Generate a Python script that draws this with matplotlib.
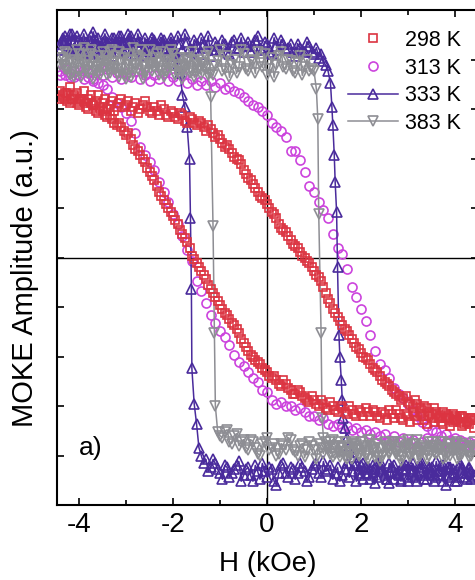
import numpy as np
import matplotlib.pyplot as plt
from matplotlib.ticker import MultipleLocator

plt.rcParams['font.family'] = ['Liberation Sans', 'DejaVu Sans']
plt.rcParams['axes.unicode_minus'] = False

# field values (kOe): main sweep points and the points half-way between them
H = [-4.4, -4.3, -4.2, -4.1, -4.0, -3.9, -3.8, -3.7, -3.6, -3.5,
     -3.4, -3.3, -3.2, -3.1, -3.0, -2.9, -2.8, -2.7, -2.6, -2.5,
     -2.4, -2.3, -2.2, -2.1, -2.0, -1.9, -1.8, -1.7, -1.6, -1.5,
     -1.4, -1.3, -1.2, -1.1, -1.0, -0.9, -0.8, -0.7, -0.6, -0.5,
     -0.4, -0.3, -0.2, -0.1, 0.0, 0.1, 0.2, 0.3, 0.4, 0.5,
     0.6, 0.7, 0.8, 0.9, 1.0, 1.1, 1.2, 1.3, 1.4, 1.5,
     1.6, 1.7, 1.8, 1.9, 2.0, 2.1, 2.2, 2.3, 2.4, 2.5,
     2.6, 2.7, 2.8, 2.9, 3.0, 3.1, 3.2, 3.3, 3.4, 3.5,
     3.6, 3.7, 3.8, 3.9, 4.0, 4.1, 4.2, 4.3, 4.4]
H2 = [-4.35, -4.25, -4.15, -4.05, -3.95, -3.85, -3.75, -3.65, -3.55, -3.45,
      -3.35, -3.25, -3.15, -3.05, -2.95, -2.85, -2.75, -2.65, -2.55, -2.45,
      -2.35, -2.25, -2.15, -2.05, -1.95, -1.85, -1.75, -1.65, -1.55, -1.45,
      -1.35, -1.25, -1.15, -1.05, -0.95, -0.85, -0.75, -0.65, -0.55, -0.45,
      -0.35, -0.25, -0.15, -0.05, 0.05, 0.15, 0.25, 0.35, 0.45, 0.55,
      0.65, 0.75, 0.85, 0.95, 1.05, 1.15, 1.25, 1.35, 1.45, 1.55,
      1.65, 1.75, 1.85, 1.95, 2.05, 2.15, 2.25, 2.35, 2.45, 2.55,
      2.65, 2.75, 2.85, 2.95, 3.05, 3.15, 3.25, 3.35, 3.45, 3.55,
      3.65, 3.75, 3.85, 3.95, 4.05, 4.15, 4.25, 4.35]

# 298 K  (up = field increasing, dn = field decreasing)
r_up = [0.84, 0.80, 0.86, 0.82, 0.79, 0.84, 0.80, 0.77, 0.82, 0.78,
        0.75, 0.79, 0.76, 0.80, 0.77, 0.74, 0.78, 0.75, 0.79, 0.74,
        0.76, 0.72, 0.75, 0.71, 0.73, 0.70, 0.72, 0.68, 0.70, 0.67,
        0.68, 0.64, 0.65, 0.61, 0.60, 0.56, 0.55, 0.51, 0.49, 0.44,
        0.40, 0.37, 0.33, 0.30, 0.27, 0.23, 0.20, 0.15, 0.13, 0.09,
        0.06, 0.03, 0.00, -0.03, -0.07, -0.10, -0.15, -0.21, -0.26, -0.30,
        -0.34, -0.37, -0.41, -0.45, -0.48, -0.51, -0.54, -0.57, -0.60, -0.63,
        -0.65, -0.68, -0.70, -0.71, -0.73, -0.75, -0.74, -0.77, -0.76, -0.79,
        -0.78, -0.80, -0.79, -0.82, -0.80, -0.83, -0.81, -0.84, -0.82]
r_up2 = [0.81, 0.83, 0.80, 0.83, 0.80, 0.78, 0.82, 0.79, 0.76, 0.80,
         0.77, 0.74, 0.78, 0.76, 0.79, 0.76, 0.73, 0.77, 0.76, 0.73,
         0.74, 0.77, 0.72, 0.74, 0.71, 0.73, 0.69, 0.71, 0.68, 0.69,
         0.66, 0.67, 0.63, 0.62, 0.58, 0.57, 0.53, 0.50, 0.47, 0.42,
         0.39, 0.35, 0.31, 0.29, 0.25, 0.22, 0.17, 0.14, 0.11, 0.07,
         0.05, 0.01, -0.02, -0.05, -0.09, -0.12, -0.18, -0.23, -0.28, -0.32,
         -0.36, -0.39, -0.43, -0.46, -0.50, -0.52, -0.56, -0.58, -0.62, -0.64,
         -0.67, -0.69, -0.72, -0.70, -0.74, -0.72, -0.76, -0.75, -0.78, -0.76,
         -0.81, -0.78, -0.81, -0.79, -0.82, -0.80, -0.83, -0.81]
r_dn = [0.80, 0.83, 0.78, 0.81, 0.77, 0.79, 0.75, 0.77, 0.73, 0.74,
        0.71, 0.70, 0.67, 0.66, 0.62, 0.60, 0.55, 0.52, 0.48, 0.43,
        0.39, 0.33, 0.29, 0.25, 0.21, 0.17, 0.12, 0.08, 0.01, -0.03,
        -0.07, -0.11, -0.16, -0.20, -0.24, -0.28, -0.31, -0.34, -0.38, -0.43,
        -0.47, -0.50, -0.53, -0.56, -0.58, -0.61, -0.62, -0.65, -0.64, -0.67,
        -0.69, -0.68, -0.71, -0.73, -0.72, -0.75, -0.74, -0.77, -0.75, -0.78,
        -0.76, -0.79, -0.77, -0.80, -0.78, -0.76, -0.80, -0.78, -0.81, -0.79,
        -0.77, -0.81, -0.79, -0.82, -0.80, -0.78, -0.82, -0.80, -0.84, -0.81,
        -0.79, -0.83, -0.81, -0.85, -0.82, -0.80, -0.84, -0.82, -0.86]
r_dn2 = [0.82, 0.79, 0.80, 0.78, 0.80, 0.76, 0.78, 0.74, 0.75, 0.72,
         0.72, 0.68, 0.68, 0.64, 0.63, 0.57, 0.54, 0.50, 0.45, 0.41,
         0.36, 0.31, 0.27, 0.23, 0.19, 0.14, 0.10, 0.05, -0.01, -0.05,
         -0.09, -0.14, -0.18, -0.22, -0.26, -0.29, -0.33, -0.36, -0.41, -0.45,
         -0.49, -0.52, -0.54, -0.57, -0.60, -0.60, -0.64, -0.62, -0.66, -0.69,
         -0.67, -0.70, -0.72, -0.70, -0.74, -0.72, -0.76, -0.73, -0.77, -0.75,
         -0.78, -0.75, -0.79, -0.77, -0.80, -0.78, -0.77, -0.80, -0.78, -0.82,
         -0.79, -0.77, -0.81, -0.79, -0.83, -0.80, -0.79, -0.82, -0.80, -0.83,
         -0.81, -0.84, -0.80, -0.83, -0.81, -0.85, -0.83, -0.81]

# 313 K (sparser sweep: main points only)
m_up = [0.92, 0.95, 0.91, 0.94, 0.92, 0.95, 0.93, 0.90, 0.94, 0.92,
        0.95, 0.91, 0.93, 0.90, 0.93, 0.91, 0.94, 0.90, 0.92, 0.89,
        0.92, 0.90, 0.93, 0.89, 0.91, 0.89, 0.92, 0.88, 0.90, 0.87,
        0.89, 0.87, 0.89, 0.86, 0.88, 0.85, 0.86, 0.84, 0.83, 0.81,
        0.79, 0.77, 0.76, 0.74, 0.72, 0.68, 0.66, 0.64, 0.61, 0.54,
        0.54, 0.49, 0.43, 0.36, 0.33, 0.28, 0.24, 0.20, 0.12, 0.05,
        0.02, -0.06, -0.15, -0.20, -0.26, -0.32, -0.39, -0.47, -0.54, -0.57,
        -0.61, -0.66, -0.69, -0.71, -0.74, -0.77, -0.80, -0.83, -0.85, -0.87,
        -0.88, -0.90, -0.89, -0.92, -0.91, -0.94, -0.93, -0.95, -0.94]
m_dn = [0.94, 0.92, 0.93, 0.91, 0.92, 0.90, 0.91, 0.89, 0.88, 0.87,
        0.85, 0.81, 0.78, 0.76, 0.73, 0.69, 0.63, 0.56, 0.52, 0.48,
        0.44, 0.38, 0.33, 0.28, 0.22, 0.17, 0.11, 0.04, -0.02, -0.12,
        -0.17, -0.23, -0.29, -0.33, -0.37, -0.40, -0.44, -0.49, -0.53, -0.55,
        -0.58, -0.61, -0.63, -0.67, -0.68, -0.72, -0.74, -0.73, -0.75, -0.75,
        -0.77, -0.76, -0.78, -0.80, -0.80, -0.82, -0.81, -0.84, -0.85, -0.84,
        -0.86, -0.85, -0.87, -0.86, -0.88, -0.87, -0.89, -0.88, -0.90, -0.89,
        -0.92, -0.90, -0.93, -0.91, -0.94, -0.92, -0.95, -0.93, -0.91, -0.94,
        -0.92, -0.95, -0.93, -0.96, -0.94, -0.92, -0.95, -0.93, -0.96]

# 333 K
p_up = [1.08, 1.12, 1.05, 1.10, 1.03, 1.13, 1.07, 1.04, 1.11, 1.06,
        1.09, 1.02, 1.08, 1.12, 1.05, 1.09, 1.03, 1.07, 1.11, 1.04,
        1.08, 1.06, 1.10, 1.03, 1.07, 1.12, 1.05, 1.09, 1.04, 1.08,
        1.11, 1.06, 1.02, 1.09, 1.05, 1.08, 1.03, 1.10, 1.06, 1.04,
        1.09, 1.07, 1.12, 1.05, 1.08, 1.03, 1.07, 1.10, 1.05, 1.08,
        1.02, 1.06, 1.04, 1.07, 1.03, 1.01, 0.99, 0.94, 0.67, -0.05,
        -0.72, -0.91, -0.98, -1.04, -1.10, -1.06, -1.12, -1.07, -1.03, -1.09,
        -1.14, -1.05, -1.10, -1.07, -1.13, -1.04, -1.09, -1.06, -1.12, -1.08,
        -1.03, -1.10, -1.15, -1.06, -1.09, -1.04, -1.11, -1.07, -1.10]
p_up2 = [1.10, 1.06, 1.13, 1.04, 1.09, 1.05, 1.12, 1.08, 1.03, 1.10,
         1.06, 1.11, 1.04, 1.08, 1.13, 1.05, 1.09, 1.02, 1.07, 1.11,
         1.04, 1.09, 1.06, 1.11, 1.04, 1.08, 1.13, 1.06, 1.10, 1.03,
         1.08, 1.12, 1.05, 1.07, 1.10, 1.04, 1.09, 1.06, 1.11, 1.07,
         1.04, 1.10, 1.06, 1.09, 1.04, 1.11, 1.05, 1.08, 1.06, 1.04,
         1.08, 1.05, 1.09, 1.04, 1.06, 1.03, 0.97, 0.88, 0.38, -0.50,
         -0.86, -0.95, -1.01, -1.07, -1.04, -1.09, -1.05, -1.11, -1.07, -1.12,
         -1.06, -1.09, -1.12, -1.05, -1.08, -1.11, -1.04, -1.10, -1.07, -1.13,
         -1.08, -1.05, -1.11, -1.07, -1.13, -1.06, -1.09, -1.12]
p_up_sw_h = [1.38, 1.43, 1.48, 1.53, 1.58, 1.62]
p_up_sw_y = [0.76, 0.52, 0.23, -0.39, -0.62, -0.81]
p_dn = [1.05, 1.09, 1.13, 1.06, 1.10, 1.04, 1.08, 1.14, 1.05, 1.09,
        1.07, 1.11, 1.04, 1.08, 1.06, 1.12, 1.05, 1.09, 1.03, 1.07,
        1.10, 1.04, 1.08, 1.02, 1.05, 0.97, 0.82, 0.66, -0.56, -0.84,
        -1.00, -1.02, -1.06, -1.04, -1.09, -1.05, -1.11, -1.07, -1.03, -1.10,
        -1.06, -1.13, -1.08, -1.04, -1.11, -1.07, -1.15, -1.05, -1.09, -1.06,
        -1.12, -1.04, -1.08, -1.11, -1.05, -1.09, -1.03, -1.07, -1.12, -1.06,
        -1.10, -1.04, -1.08, -1.13, -1.05, -1.09, -1.07, -1.14, -1.06, -1.10,
        -1.04, -1.12, -1.08, -1.05, -1.11, -1.07, -1.13, -1.04, -1.09, -1.06,
        -1.11, -1.05, -1.10, -1.07, -1.13, -1.05, -1.09, -1.06, -1.11]
p_dn2 = [1.11, 1.07, 1.04, 1.12, 1.06, 1.09, 1.03, 1.10, 1.07, 1.13,
         1.05, 1.08, 1.12, 1.04, 1.10, 1.06, 1.13, 1.05, 1.08, 1.11,
         1.07, 1.11, 1.05, 1.09, 1.03, 0.93, 0.76, 0.50, -0.74, -0.96,
         -1.04, -1.08, -1.02, -1.07, -1.12, -1.06, -1.09, -1.05, -1.13, -1.07,
         -1.10, -1.05, -1.12, -1.08, -1.06, -1.13, -1.09, -1.04, -1.11, -1.07,
         -1.09, -1.06, -1.13, -1.07, -1.04, -1.11, -1.08, -1.05, -1.09, -1.13,
         -1.07, -1.11, -1.05, -1.09, -1.12, -1.06, -1.10, -1.04, -1.08, -1.12,
         -1.06, -1.09, -1.13, -1.07, -1.05, -1.10, -1.08, -1.12, -1.06, -1.10,
         -1.08, -1.13, -1.06, -1.09, -1.11, -1.07, -1.12, -1.08]
p_dn_sw_h = [-1.63, -1.61]
p_dn_sw_y = [0.20, -0.16]

# 383 K
g_up = [0.97, 1.04, 0.92, 1.00, 0.94, 1.06, 0.96, 0.90, 1.02, 0.95,
        0.99, 1.05, 0.93, 0.98, 1.03, 0.91, 0.97, 1.01, 0.94, 1.05,
        0.96, 0.92, 1.00, 0.95, 1.03, 0.97, 0.90, 0.99, 1.04, 0.94,
        0.98, 1.02, 0.93, 0.97, 1.05, 0.95, 0.91, 1.00, 0.96, 1.03,
        0.94, 0.99, 1.04, 0.96, 0.92, 1.01, 0.97, 1.04, 0.95, 0.99,
        0.93, 1.02, 0.96, 0.94, 0.94, 0.22, -0.91, -0.96, -1.01, -0.93,
        -0.98, -0.95, -1.02, -0.94, -0.97, -1.00, -0.92, -0.96, -1.03, -0.95,
        -0.99, -0.93, -0.97, -1.01, -0.94, -0.98, -0.92, -0.96, -1.02, -0.95,
        -0.99, -0.93, -0.97, -1.00, -0.94, -0.98, -0.95, -1.01, -0.96]
g_up2 = [1.01, 0.95, 0.98, 1.05, 0.91, 0.99, 1.03, 0.94, 0.97, 1.02,
         0.93, 0.96, 1.04, 0.92, 0.99, 1.06, 0.95, 0.90, 1.00, 0.97,
         1.03, 0.94, 0.98, 1.05, 0.92, 0.96, 1.01, 0.95, 0.91, 1.00,
         0.96, 1.04, 0.92, 0.99, 0.94, 1.02, 0.97, 0.93, 1.05, 0.95,
         1.00, 0.93, 0.98, 1.03, 0.95, 0.91, 1.02, 0.96, 1.00, 0.94,
         0.98, 0.92, 1.00, 0.95, 0.85, -0.38, -0.96, -0.93, -0.99, -0.95,
         -1.01, -0.96, -0.93, -0.99, -0.95, -1.02, -0.97, -0.94, -1.00, -0.96,
         -0.93, -0.98, -1.03, -0.95, -0.99, -0.94, -1.00, -0.97, -0.93, -0.98,
         -0.96, -1.02, -0.94, -0.98, -0.93, -0.99, -0.97, -1.00]
g_up_sw_h = [1.08, 1.17]
g_up_sw_y = [0.70, -0.81]
g_dn = [1.01, 0.95, 0.99, 0.91, 1.03, 0.97, 0.93, 1.00, 0.96, 1.04,
        0.92, 0.98, 1.02, 0.95, 0.90, 1.00, 0.97, 1.05, 0.93, 0.98,
        1.01, 0.95, 0.91, 0.99, 1.03, 0.96, 0.93, 1.00, 0.94, 0.97,
        0.92, 0.95, 0.81, -0.75, -0.90, -0.88, -0.93, -0.90, -0.95, -0.92,
        -0.97, -0.93, -0.99, -0.94, -0.91, -0.96, -1.00, -0.94, -0.97, -0.92,
        -0.98, -0.95, -1.01, -0.93, -0.97, -0.94, -0.99, -0.95, -0.92, -0.98,
        -0.96, -1.02, -0.94, -0.97, -0.93, -0.99, -0.95, -1.01, -0.96, -0.93,
        -0.98, -0.94, -1.00, -0.96, -0.92, -0.97, -1.02, -0.95, -0.98, -0.93,
        -0.99, -0.96, -1.01, -0.94, -0.97, -1.00, -0.95, -0.98, -0.93]
g_dn2 = [0.97, 1.03, 0.93, 0.98, 1.00, 0.94, 1.05, 0.96, 0.92, 0.99,
         1.04, 0.95, 0.91, 1.01, 0.97, 0.93, 1.02, 0.96, 1.00, 0.94,
         0.98, 1.04, 0.94, 0.97, 0.92, 1.01, 0.96, 0.93, 0.99, 0.95,
         0.98, 0.92, 0.16, -0.88, -0.91, -0.87, -0.94, -0.89, -0.93, -0.96,
         -0.92, -0.96, -1.00, -0.93, -0.97, -0.94, -0.99, -0.95, -0.91, -0.97,
         -1.00, -0.94, -0.97, -0.95, -1.02, -0.96, -0.93, -0.99, -0.95, -1.01,
         -0.93, -0.98, -0.95, -1.00, -0.96, -0.92, -0.98, -0.94, -1.01, -0.96,
         -0.95, -0.99, -0.93, -0.97, -1.01, -0.94, -0.98, -0.96, -1.00, -0.95,
         -0.97, -0.93, -0.99, -0.96, -1.02, -0.94, -0.98, -0.95]
g_dn_sw_h = [-1.12]
g_dn_sw_y = [-0.38]


def sweep(y1, y2=None, hx=(), yx=(), descending=False):
    if y2 is None:
        h = np.concatenate([H, hx])
        y = np.concatenate([y1, yx])
    else:
        h = np.concatenate([H, H2, hx])
        y = np.concatenate([y1, y2, yx])
    o = np.argsort(h, kind='stable')
    if descending:
        o = o[::-1]
    return h[o], y[o]


def loop(up, dn):
    hu, yu = up
    hd, yd = dn
    return np.concatenate([hu, hd]), np.concatenate([yu, yd])


c298, c313, c333, c383 = '#dc3441', '#cc44dd', '#4a2b9c', '#8e8e94'

fig = plt.figure(figsize=(4.75, 5.8), dpi=100)
ax = fig.add_axes([57 / 475, 75 / 580, 421.5 / 475, 495 / 580])

ax.axhline(0, color='black', lw=1.0, zorder=1)
ax.axvline(0, color='black', lw=1.0, zorder=1)

x, y = loop(sweep(m_up), sweep(m_dn, descending=True))
h313, = ax.plot(x, y, ls='none', marker='o', ms=6.5, mfc='none', mec=c313, mew=1.2, zorder=2)
x, y = loop(sweep(p_up, p_up2, p_up_sw_h, p_up_sw_y),
            sweep(p_dn, p_dn2, p_dn_sw_h, p_dn_sw_y, descending=True))
h333, = ax.plot(x, y, color=c333, lw=1.1, marker='^', ms=7, mfc='none', mec=c333, mew=1.2, zorder=3)
x, y = loop(sweep(g_up, g_up2, g_up_sw_h, g_up_sw_y),
            sweep(g_dn, g_dn2, g_dn_sw_h, g_dn_sw_y, descending=True))
h383, = ax.plot(x, y, color=c383, lw=1.1, marker='v', ms=7, mfc='none', mec=c383, mew=1.2, zorder=4)
x, y = loop(sweep(r_up, r_up2), sweep(r_dn, r_dn2, descending=True))
h298, = ax.plot(x, y, ls='none', marker='s', ms=6, mfc='none', mec=c298, mew=1.2, zorder=5)

ax.set_xlim(-4.47, 4.5)
ax.set_ylim(-1.25, 1.25)
ax.set_xticks([-4, -2, 0, 2, 4])
ax.xaxis.set_minor_locator(MultipleLocator(1))
ax.set_yticks([-1, -0.75, -0.5, -0.25, 0, 0.25, 0.5, 0.75, 1])
ax.tick_params(which='both', direction='in', top=True, right=True, width=1.2)
ax.tick_params(which='major', length=5)
ax.tick_params(which='minor', length=3.5)
ax.tick_params(axis='x', labelsize=20, pad=5)
ax.tick_params(axis='y', labelleft=False)
for s in ax.spines.values():
    s.set_linewidth(1.5)

ax.set_xlabel('H (kOe)', fontsize=20)
ax.xaxis.set_label_coords(0.5, -0.093)
ax.set_ylabel('MOKE Amplitude (a.u.)', fontsize=21)
ax.yaxis.set_label_coords(-0.043, 0.459)

ax.text(0.08, 0.115, 'a)', transform=ax.transAxes, fontsize=19, ha='center', va='center')

ax.legend([h298, h313, h333, h383], ['298 K', '313 K', '333 K', '383 K'],
          loc='upper left', bbox_to_anchor=(348 / 475, 1 - 30 / 580),
          bbox_transform=fig.transFigure, frameon=False, fontsize=15.5,
          borderpad=0, borderaxespad=0, handlelength=2.33, handletextpad=0.33,
          labelspacing=0.31, numpoints=1)

fig.savefig('out.png', dpi=100)
